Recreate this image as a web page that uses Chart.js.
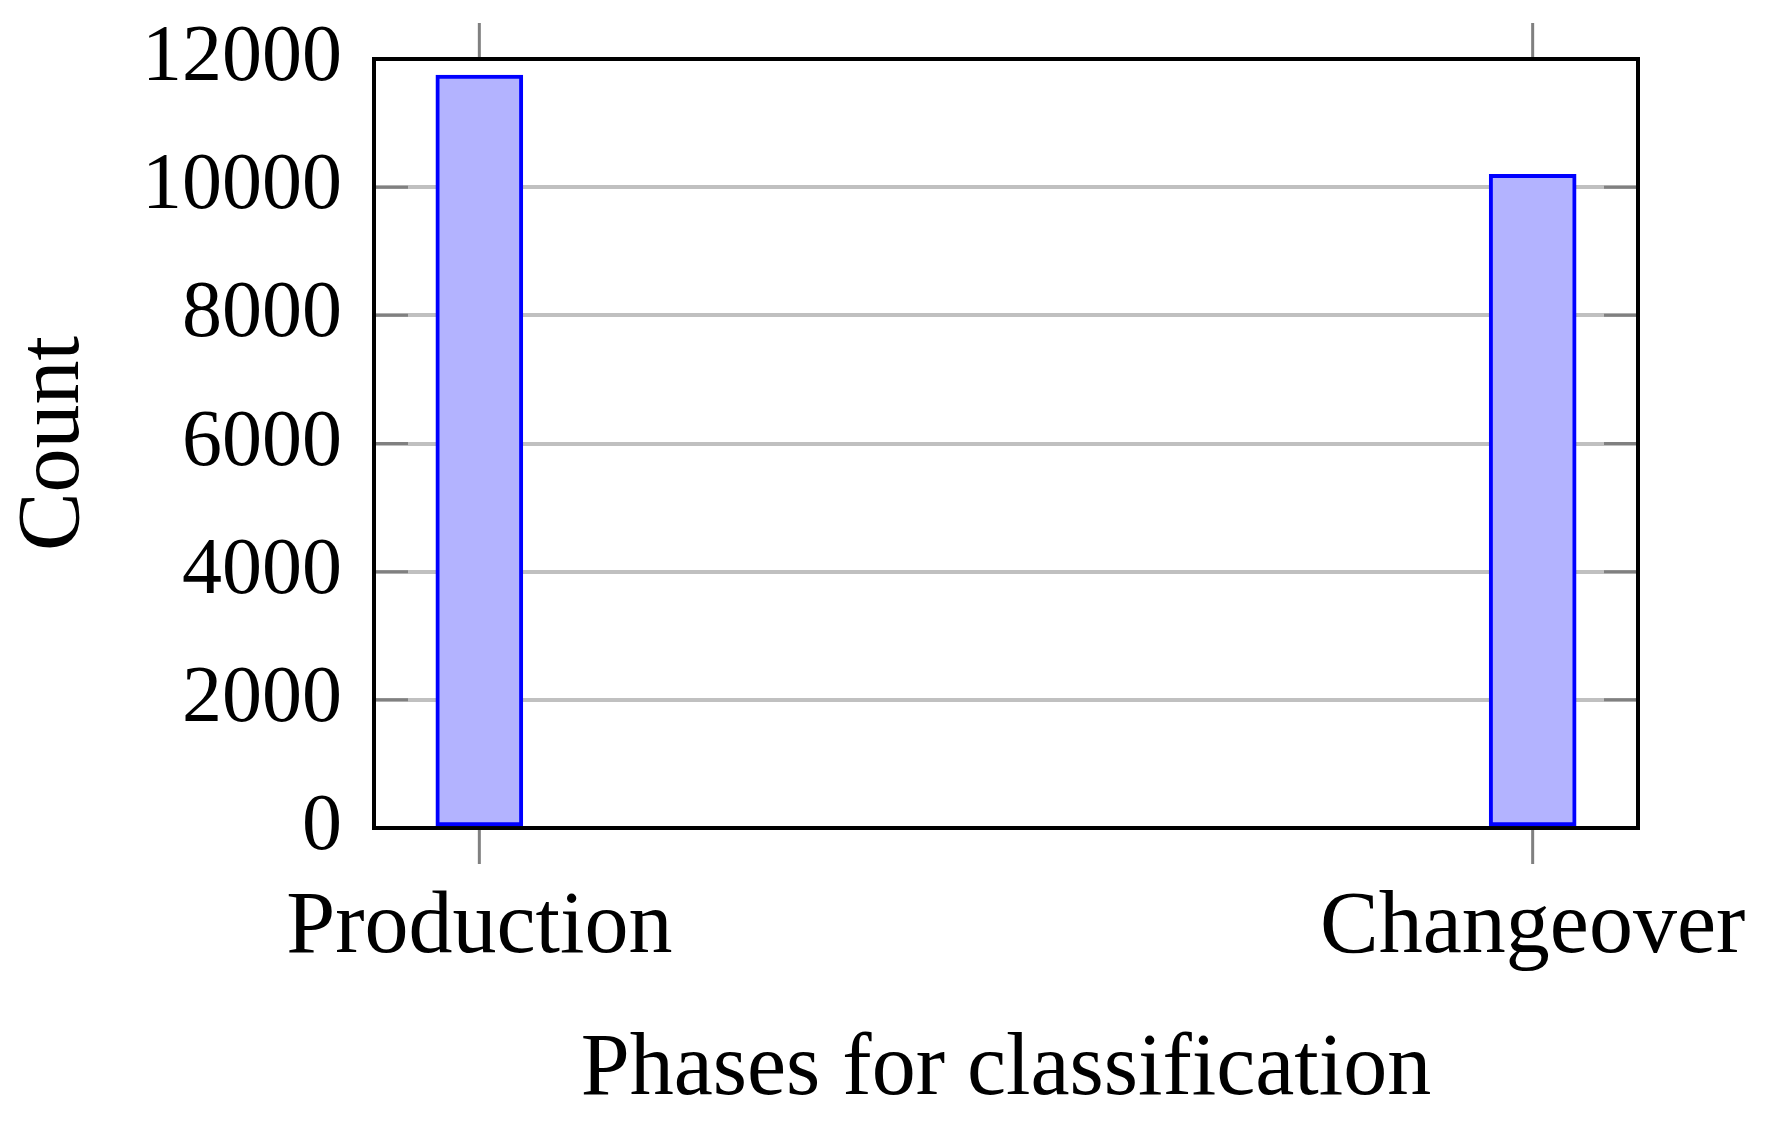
<!DOCTYPE html>
<html>
<head>
<meta charset="utf-8">
<script src="https://cdn.jsdelivr.net/npm/chart.js@4/dist/chart.umd.min.js"></script>
<style>
  html, body { margin: 0; padding: 0; background: #ffffff; }
  #wrap { width: 1774px; height: 1122px; }
</style>
</head>
<body>
<div id="wrap"><canvas id="c" width="1774" height="1122"></canvas></div>
<script>
const categories = ["Production", "Changeover"];
const counts = [11750, 10200];
const yTickValues = [0, 2000, 4000, 6000, 8000, 10000, 12000];
const xTitle = "Phases for classification";
const yTitle = "Count";

const FONT = "'Liberation Serif', 'DejaVu Serif', serif";

const framePlugin = {
  id: 'framePlugin',
  beforeDatasetsDraw(chart) {
    const ctx = chart.ctx;
    const a = chart.chartArea;
    const xs = chart.scales.x, ys = chart.scales.y;
    ctx.save();
    ctx.strokeStyle = '#808080';
    ctx.lineWidth = 3;
    ctx.beginPath();
    ys.ticks.forEach(t => {
      const y = ys.getPixelForValue(t.value);
      ctx.moveTo(a.left, y); ctx.lineTo(a.left + 34, y);
      ctx.moveTo(a.right - 34, y); ctx.lineTo(a.right, y);
    });
    xs.ticks.forEach(t => {
      const x = xs.getPixelForValue(t.value);
      ctx.moveTo(x, a.top - 36); ctx.lineTo(x, a.top);
      ctx.moveTo(x, a.bottom); ctx.lineTo(x, a.bottom + 36);
    });
    ctx.stroke();
    ctx.strokeStyle = '#000000';
    ctx.lineWidth = 4;
    ctx.strokeRect(a.left, a.top, a.right - a.left, a.bottom - a.top);
    ctx.restore();
  }
};

new Chart(document.getElementById('c'), {
  type: 'bar',
  data: {
    datasets: [{
      data: categories.map((c, i) => ({ x: i, y: counts[i] })),
      backgroundColor: 'rgb(179,179,255)',
      borderColor: '#0000ff',
      borderWidth: 4,
      borderSkipped: false,
      barThickness: 87
    }]
  },
  options: {
    responsive: false,
    animation: false,
    devicePixelRatio: 1,
    layout: { padding: { left: 0, right: 136, top: 59, bottom: 0 } },
    plugins: { legend: { display: false }, tooltip: { enabled: false } },
    scales: {
      x: {
        type: 'linear',
        offset: false,
        min: -0.1,
        max: 1.1,
        afterBuildTicks: (s) => { s.ticks = categories.map((c, i) => ({ value: i })); },
        afterFit: (s) => { s.height = 1122 - 828; s.paddingLeft = 0; s.paddingRight = 0; },
        grid: { display: false, drawTicks: false, offset: false },
        border: { display: false },
        ticks: {
          autoSkip: false,
          maxRotation: 0,
          padding: 57,
          color: '#000000',
          font: { family: FONT, size: 88, lineHeight: 1 },
          callback: (v) => categories[v]
        },
        title: {
          display: true,
          text: xTitle,
          color: '#000000',
          font: { family: FONT, size: 88, lineHeight: 1 },
          padding: { top: 0, bottom: 7 }
        }
      },
      y: {
        min: 0,
        max: 12000,
        afterBuildTicks: (s) => { s.ticks = yTickValues.map(v => ({ value: v })); },
        afterFit: (s) => { s.width = 374; s.paddingTop = 0; s.paddingBottom = 0; },
        grid: { color: '#c0c0c0', lineWidth: 4, drawTicks: false },
        border: { display: false },
        ticks: {
          padding: 32,
          color: '#000000',
          font: { family: FONT, size: 80, lineHeight: 1 },
          callback: (v) => String(v)
        },
        title: {
          display: true,
          text: yTitle,
          color: '#000000',
          font: { family: FONT, size: 88, lineHeight: 1 },
          padding: { top: 11, bottom: 0 }
        }
      }
    }
  },
  plugins: [framePlugin]
});
</script>
</body>
</html>
